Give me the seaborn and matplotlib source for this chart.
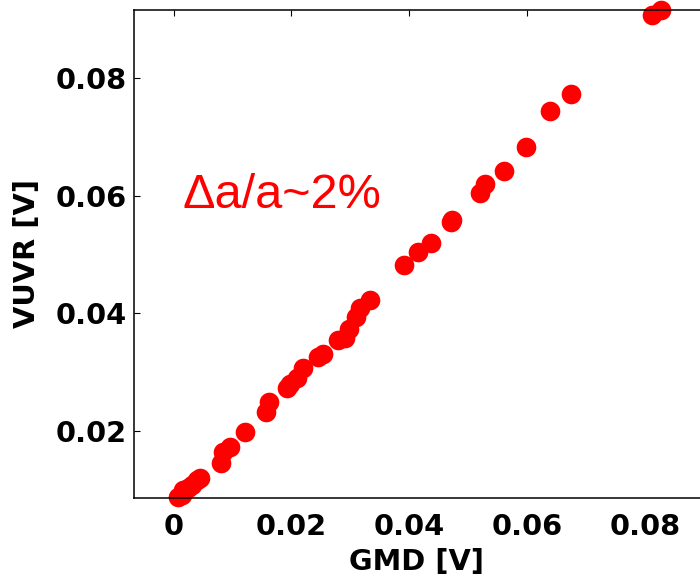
import numpy as np
import pandas as pd
import matplotlib
matplotlib.use("Agg")
import matplotlib.pyplot as plt
import seaborn as sns

# --- datos ---
gmd = [0.0007, 0.0014, 0.0016, 0.0024, 0.0031, 0.0039, 0.0045,
       0.0080, 0.0084, 0.0095, 0.0121, 0.0157, 0.0162, 0.0192, 0.0197,
       0.0209, 0.0220, 0.0245, 0.0253, 0.0279, 0.0291, 0.0298, 0.0310,
       0.0316, 0.0333, 0.0391, 0.0415, 0.0436, 0.0470, 0.0473, 0.0520,
       0.0528, 0.0561, 0.0597, 0.0638, 0.0675, 0.0811, 0.0827]
vuvr = [0.0089, 0.0092, 0.0100, 0.0104, 0.0109, 0.0117, 0.0121,
        0.0146, 0.0165, 0.0174, 0.0198, 0.0233, 0.0250, 0.0273, 0.0281,
        0.0290, 0.0307, 0.0326, 0.0331, 0.0355, 0.0359, 0.0373, 0.0394,
        0.0409, 0.0423, 0.0483, 0.0504, 0.0519, 0.0555, 0.0559, 0.0605,
        0.0619, 0.0641, 0.0683, 0.0744, 0.0773, 0.0906, 0.0915]
xticks = [0, 0.02, 0.04, 0.06, 0.08]
xticklabels = ["0", "0.02", "0.04", "0.06", "0.08"]
yticks = [0.02, 0.04, 0.06, 0.08]
yticklabels = ["0.02", "0.04", "0.06", "0.08"]

df = pd.DataFrame({"GMD": gmd, "VUVR": vuvr})

sns.set_style("white")
plt.rcParams["font.family"] = ["DejaVu Sans"]

fig = plt.figure(figsize=(7, 5.82), dpi=100)
ax = fig.add_axes([133.5 / 700, 84 / 582, 1 - 133.5 / 700, 488 / 582])

sns.scatterplot(data=df, x="GMD", y="VUVR", ax=ax, color="#ff0000",
                s=200, linewidth=0, clip_on=False, legend=False)

ax.set_xlim(-0.0068, 0.0893)
ax.set_ylim(0.00868, 0.0915)
ax.set_xticks(xticks)
ax.set_xticklabels(xticklabels)
ax.set_yticks(yticks)
ax.set_yticklabels(yticklabels)

for side in ["left", "bottom", "top"]:
    ax.spines[side].set_color("black")
    ax.spines[side].set_linewidth(1.1)
ax.spines["right"].set_visible(False)

ax.tick_params(axis="both", direction="in", length=4, width=0.8,
               labelsize=20.8, colors="black")
ax.tick_params(axis="x", top=True, pad=11)
ax.tick_params(axis="y", left=True, right=False, pad=5)
for lab in ax.get_xticklabels() + ax.get_yticklabels():
    lab.set_fontweight("bold")

ax.set_xlabel("GMD [V]", fontsize=20.8, fontweight="bold", labelpad=5,
              color="black")
ax.set_ylabel("VUVR [V]", fontsize=20.8, fontweight="bold", labelpad=10,
              color="black")

ax.text(0.00153, 0.0579, "\u0394a/a~2%", color="#ff0000", fontsize=35,
        family=["Liberation Sans", "DejaVu Sans"], va="baseline", ha="left")

fig.savefig("out.png", dpi=100)
plt.close()
